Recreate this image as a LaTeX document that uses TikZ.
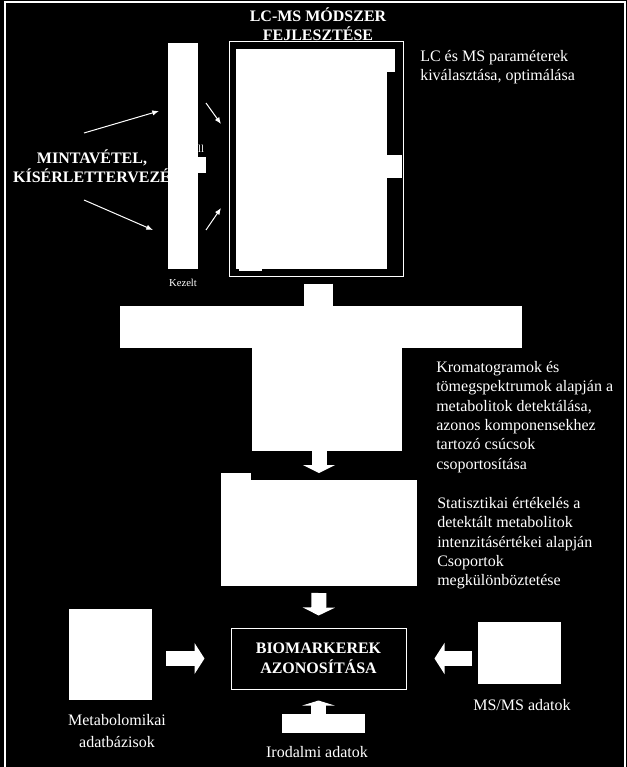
\documentclass[tikz,border=0pt]{standalone}
\usepackage{fontspec}
\setmainfont{Liberation Serif}
\usetikzlibrary{positioning, fit, arrows.meta}
\tikzstyle{Block} = [fill=white, inner sep=0pt, outer sep=0pt]
\tikzstyle{Frame} = [draw=white, line width=0.75pt, inner sep=0pt]
\tikzstyle{Note} = [text=white, align=left, anchor=north west, inner sep=0pt,
                    font=\fontsize{12}{14.5}\selectfont]
\tikzstyle{Caption} = [text=white, align=center, inner sep=0pt,
                       font=\fontsize{12}{16.5}\selectfont]
\tikzstyle{Title} = [text=white, align=center, inner sep=0pt,
                     font=\fontsize{12}{14}\selectfont\bfseries]
\tikzstyle{Small} = [text=white, inner sep=0pt, font=\fontsize{8}{9}\selectfont]
\tikzstyle{Thin} = [draw=white, line width=0.75pt, -{Latex[length=5pt, width=4pt]}]
\tikzstyle{Fat} = [draw=white, line width=11.25pt, -{Triangle[length=6pt, width=24pt]}]

\begin{document}
\begin{tikzpicture}
    [x=0.75pt, y=-0.75pt]

    \fill[black] (0,0) rectangle (627,767);
    \useasboundingbox (0,0) rectangle (627,767);
    \draw[white, line width=1.2pt] (5,767) |- (625,2) -- (625,767);

    %% Mintavetel
    \node[Title, font=\fontsize{12}{14.5}\selectfont\bfseries] (mintavetel) at (92,166) {MINTAVÉTEL,\\KÍSÉRLETTERVEZÉ};
    \node[Small] (ll) at (201,149) {ll};
    \node[Block, fit={(168,43) (198,269)}] (bar) {};
    \node[Block, fit={(198,157) (206,173)}] (barbump) {};
    \node[Small, below=7pt of bar] (kezelt) {Kezelt};

    \coordinate (mv1) at (84,133);
    \coordinate (mv1e) at (159,111);
    \coordinate (mv2) at (84,200);
    \coordinate (mv2e) at (153,230);
    \coordinate (br1) at (206,103);
    \coordinate (br1e) at (221,124);
    \coordinate (br2) at (206,230);
    \coordinate (br2e) at (221,208);

    %% LC-MS
    \node[Title] (title) at (318,24) {LC-MS MÓDSZER\\FEJLESZTÉSE};
    \node[Frame, fit={(229,42) (403,276)}] (frame) {};
    \node[Block, fit={(236,49) (387,269)}] (lcimg) {};
    \node[Block, fit={(387,49) (395,72)}] (lcimgtop) {};
    \node[Block, fit={(387,155) (402,178)}] (lcimgside) {};
    \node[Block, fit={(239,269) (262,271)}] (lcimgfoot) {};
    \node[Note] (lcmsnote) at (420,50) {LC és MS paraméterek\\kiválasztása, optimálása};

    %% Detektalas
    \node[Block, fit={(120,306) (522,348)}] (thoriz) {};
    \node[Block, fit={(252,347) (402,451)}] (tvert) {};
    \node[Note] (kromnote) at (436,361) {Kromatogramok és\\tömegspektrumok alapján a\\metabolitok detektálása,\\azonos komponensekhez\\tartozó csúcsok\\csoportosítása};

    %% Statisztika
    \node[Block, fit={(221,480) (417,586)}] (stat) {};
    \node[Block, fit={(221,473) (251,481)}] (stattab) {};
    \node[Note] (statnote) at (437,497) {Statisztikai értékelés a\\detektált metabolitok\\intenzitásértékei alapján\\Csoportok\\megkülönböztetése};

    %% Biomarkerek
    \node[Frame, fit={(231,628) (406,689)}] (bio) {};
    \node[Title, font=\fontsize{12}{15}\selectfont\bfseries] (biotext) at (bio.center) {BIOMARKEREK\\AZONOSÍTÁSA};
    \node[Block, fit={(69,609) (152,700)}] (metab) {};
    \node[Caption] (metabtext) at (117,731) {Metabolomikai\\adatbázisok};
    \node[Block, fit={(478,622) (561,684)}] (msms) {};
    \node[Caption] (msmstext) at (522,705) {MS/MS adatok};
    \node[Block, fit={(282,714) (365,733)}] (irod) {};
    \node[Caption] (irodtext) at (317,752) {Irodalmi adatok};

    %% Draw
    \draw[Thin] (mv1) -- (mv1e);
    \draw[Thin] (mv2) -- (mv2e);
    \draw[Thin] (br1) -- (br1e);
    \draw[Thin] (br2) -- (br2e);

    \draw[white, line width=21.75pt, shorten <=5.25pt] ([xshift=1.9pt]frame.south) -- ([xshift=1.9pt]frame.south |- thoriz.north);
    \draw[Fat] (stat.north |- tvert.south) -- (stat.north |- stattab.north);
    \draw[Fat, shorten <=5.25pt, shorten >=9pt] (stat.south) -- (bio.north);
    \draw[Fat, -{Triangle[length=7.5pt, width=23pt]}, shorten <=10.5pt, shorten >=19.5pt] (metab.east |- bio.west) -- (bio.west);
    \draw[Fat, -{Triangle[length=7.5pt, width=23pt]}, shorten <=4.5pt, shorten >=21pt] (msms.west |- bio.east) -- (bio.east);
    \draw[Fat, -{Triangle[length=3.75pt, width=24pt]}, shorten >=8.25pt] (bio.south |- irod.north) -- (bio.south);

\end{tikzpicture}
\end{document}
